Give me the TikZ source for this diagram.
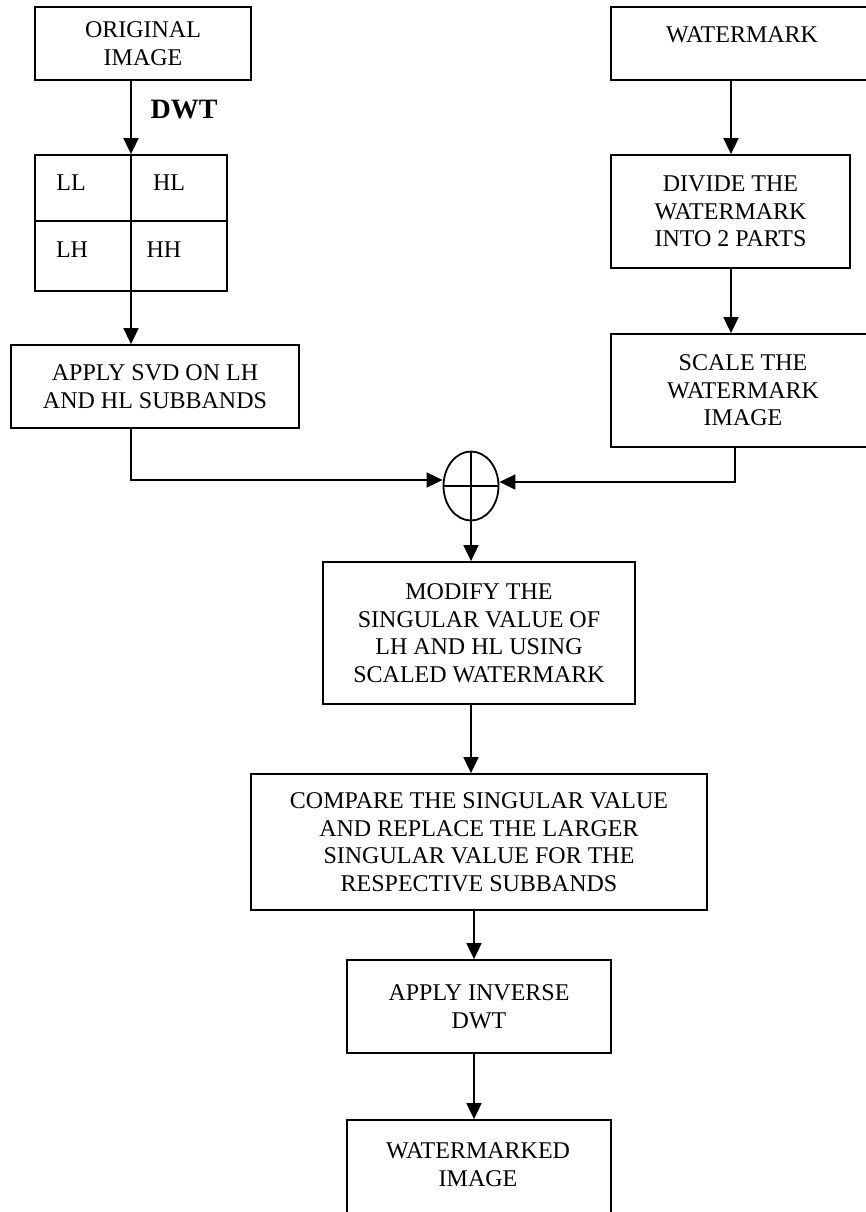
\documentclass[tikz,border=0pt]{standalone}
\usepackage{fontspec}
\setmainfont{Liberation Serif}
\usetikzlibrary{arrows.meta,shapes.geometric}
\begin{document}
\begin{tikzpicture}[x=1pt,y=-1pt,
  box/.style={draw,line width=1.8pt,rectangle,inner sep=0pt,align=center,
    font=\fontsize{24}{27.5}\selectfont},
  txt/.style={inner sep=0pt,align=center,font=\fontsize{24}{27.5}\selectfont},
  conn/.style={line width=1.8pt},
  arr/.style={line width=1.8pt,-{Triangle[length=16pt,width=15pt]}}]
\useasboundingbox (0,0) rectangle (866,1212);
% left column
\node[box,minimum width=216pt,minimum height=73pt] (orig) at (143,43.5) {ORIGINAL\\IMAGE};
\node[box,minimum width=192pt,minimum height=136pt] (grid) at (131,223) {};
\node[box,minimum width=288pt,minimum height=83pt] (svd) at (155,386.5) {APPLY SVD ON LH\\AND HL SUBBANDS};
\coordinate (cl) at (131,0);
\node[inner sep=0pt,font=\fontsize{28}{30}\selectfont\bfseries] (dwt) at (184,110) {DWT};
\node[txt] (ll) at (71,183) {LL};
\node[txt] (hl) at (169,183) {HL};
\node[txt] (lh) at (72,250) {LH};
\node[txt] (hh) at (164,250) {HH};
\draw[conn] (grid.west |- 0,221) -- (grid.east |- 0,221);
\draw[arr] (orig.south -| cl) -- (grid.north -| cl);
\draw[conn] (grid.north -| cl) -- (grid.south -| cl);
\draw[arr] (grid.south -| cl) -- (svd.north -| cl);
% right column
\node[box,minimum width=257pt,minimum height=73pt] (wm) at (739.5,43.5) {};
\node[txt] (wmt) at (742,35) {WATERMARK};
\node[box,minimum width=239pt,minimum height=113pt] (div) at (730.5,211.5) {DIVIDE THE\\WATERMARK\\INTO 2 PARTS};
\node[box,minimum width=257pt,minimum height=113pt] (scl) at (739.5,390.5) {\hspace*{7pt}SCALE THE\\\hspace*{7pt}WATERMARK\\\hspace*{7pt}IMAGE};
\coordinate (cr) at (731,0);
\coordinate (cr2) at (735,0);
\draw[arr] (wm.south -| cr) -- (div.north -| cr);
\draw[arr] (div.south -| cr) -- (scl.north -| cr);
% summing junction
\node[draw,ellipse,line width=1.8pt,minimum width=55pt,minimum height=69pt,inner sep=0pt] (sum) at (471,486) {};
\draw[conn] (sum.north) -- (sum.south);
\draw[conn] (sum.west) -- (sum.east);
\draw[arr] (svd.south -| cl) |- ([yshift=6pt]sum.west);
\draw[arr] (scl.south -| cr2) |- ([yshift=4pt]sum.east);
% lower column
\node[box,minimum width=312pt,minimum height=142pt] (mod) at (479,633) {MODIFY THE\\SINGULAR VALUE OF\\LH AND HL USING\\SCALED WATERMARK};
\node[box,minimum width=456pt,minimum height=136pt] (comp) at (479,842) {COMPARE THE SINGULAR VALUE\\AND REPLACE THE LARGER\\SINGULAR VALUE FOR THE\\RESPECTIVE SUBBANDS};
\node[box,minimum width=264pt,minimum height=93pt] (inv) at (479,1006.5) {APPLY INVERSE\\DWT};
\node[box,minimum width=264pt,minimum height=104pt] (wmk) at (479,1172) {};
\node[txt] (wmkt) at (478,1164.5) {WATERMARKED\\IMAGE};
\coordinate (cb) at (471,0);
\coordinate (cb2) at (474,0);
\draw[arr] (sum.south) -- (mod.north -| sum.south);
\draw[arr] (mod.south -| cb) -- (comp.north -| cb);
\draw[arr] (comp.south -| cb2) -- (inv.north -| cb2);
\draw[arr] (inv.south -| cb2) -- (wmk.north -| cb2);
\end{tikzpicture}
\end{document}
